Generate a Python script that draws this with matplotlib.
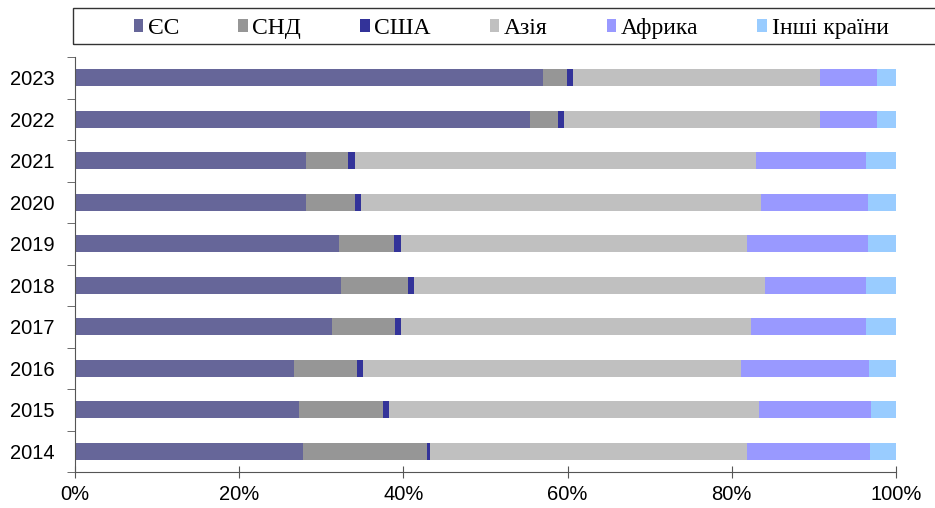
import numpy as np
import matplotlib.pyplot as plt
from matplotlib.patches import Rectangle

# частки експорту за регіонами, %
years = ["2014", "2015", "2016", "2017", "2018", "2019", "2020", "2021", "2022", "2023"]
eu     = [27.8, 27.3, 26.7, 31.3, 32.4, 32.1, 28.1, 28.1, 55.4, 57.0]
cis    = [15.1, 10.2,  7.7,  7.7,  8.1,  6.7,  6.0,  5.1,  3.4,  2.9]
usa    = [ 0.3,  0.7,  0.7,  0.7,  0.8,  0.9,  0.7,  0.9,  0.8,  0.7]
asia   = [38.6, 45.1, 46.0, 42.6, 42.8, 42.1, 48.7, 48.9, 31.1, 30.1]
africa = [15.0, 13.6, 15.6, 14.0, 12.2, 14.8, 13.1, 13.3,  7.0,  7.0]
other  = [ 3.2,  3.1,  3.3,  3.7,  3.7,  3.4,  3.4,  3.7,  2.3,  2.3]

labels = ["ЄС", "СНД", "США", "Азія", "Африка", "Інші країни"]
colors = ["#666699", "#969696", "#333399", "#C0C0C0", "#9999FF", "#99CCFF"]
series = [eu, cis, usa, asia, africa, other]

fig = plt.figure(figsize=(9.35, 5.08), dpi=100)
ax = fig.add_axes([75/935, 36/508, 821/935, 415/508])

y = np.arange(len(years))
left = np.zeros(len(years))
for vals, lab, col in zip(series, labels, colors):
    ax.barh(y, vals, left=left, height=0.41, color=col, label=lab,
            edgecolor="none")
    left += np.array(vals)

ax.set_xlim(0, 100)
ax.set_ylim(-0.5, len(years) - 0.5)
ax.set_xticks(np.arange(0, 101, 20))
ax.set_xticklabels([f"{v}%" for v in range(0, 101, 20)])
ax.set_yticks(y)
ax.set_yticklabels(years)
ax.set_yticks(np.arange(-0.5, len(years), 1), minor=True)

ax.tick_params(axis="y", which="major", length=0, pad=15, labelsize=14.5)
ax.tick_params(axis="y", which="minor", length=6, direction="out", color="#555555")
ax.tick_params(axis="x", which="major", length=8, direction="inout",
               labelsize=14.5, pad=5, color="#555555")
for s in ["top", "right"]:
    ax.spines[s].set_visible(False)
ax.spines["left"].set_color("#555555")
ax.spines["bottom"].set_color("#555555")
for t in ax.get_xticklabels() + ax.get_yticklabels():
    t.set_fontfamily("Liberation Sans")

# рамка легенди
fig.patches.append(Rectangle((73/935, 1 - 44/508), 870/935, 36/508,
                             transform=fig.transFigure, fill=False,
                             edgecolor="#333333", linewidth=1.0))
fig.legend(loc="center", bbox_to_anchor=(511/935, 1 - 28.5/508), ncol=6,
           frameon=False, handlelength=0.4, handleheight=0.47,
           handletextpad=0.2, columnspacing=2.5, borderpad=0,
           prop={"family": "Liberation Serif", "size": 17})

fig.savefig("out.png", dpi=100)
